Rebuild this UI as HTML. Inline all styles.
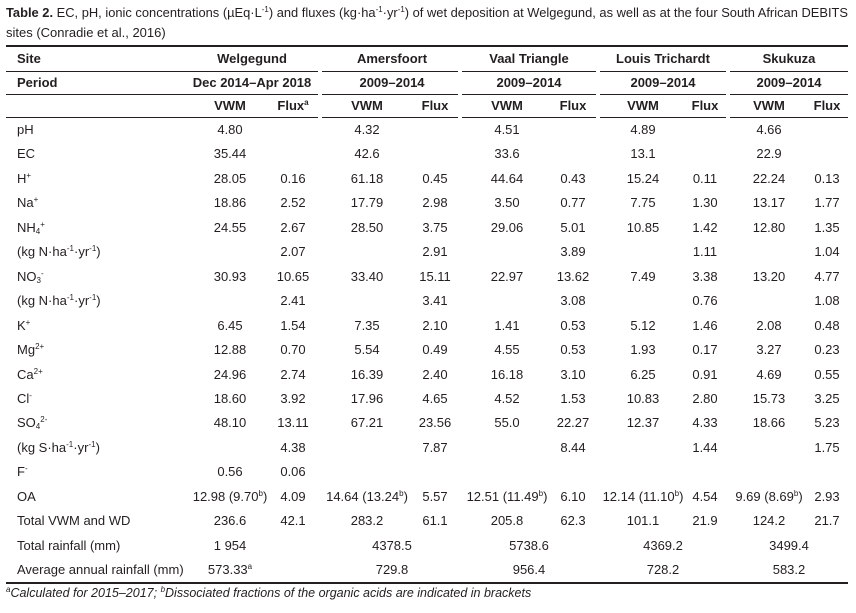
<!DOCTYPE html>
<html><head><meta charset="utf-8"><style>
html,body{margin:0;padding:0;background:#fff;}
#root{position:relative;width:856px;height:613px;overflow:hidden;font-family:"Liberation Sans Narrow","Liberation Sans",sans-serif;color:#231f20;font-size:13px;}
.t{position:absolute;white-space:nowrap;line-height:14px;}
.c{transform:translateX(-50%);}
.b{font-weight:bold;}
.rule{position:absolute;height:1px;background:#231f20;}
sup{font-size:8px;vertical-align:5px;line-height:0;}
sub{font-size:8px;vertical-align:-2px;line-height:0;}
.title{position:absolute;left:6px;font-size:13px;white-space:nowrap;transform-origin:left top;}
</style></head><body>
<div id="root">
<div class="title" style="top:5px"><b>Table 2.</b> EC, pH, ionic concentrations (µEq·L<sup>-1</sup>) and fluxes (kg·ha<sup>-1</sup>·yr<sup>-1</sup>) of wet deposition at Welgegund, as well as at the four South African DEBITS</div>
<div class="title" style="top:25px">sites (Conradie et al., 2016)</div>
</div>
<script>
const groupCenters=[252,392,529,663,789];
const vwmX=[230,367,507,643,769];
const fluxX=[293,435,573,705,827];
const sites=["Welgegund","Amersfoort","Vaal Triangle","Louis Trichardt","Skukuza"];
const periods=["Dec 2014–Apr 2018","2009–2014","2009–2014","2009–2014","2009–2014"];
const rowLabels=["pH","EC","H<sup>+</sup>","Na<sup>+</sup>","NH<sub>4</sub><sup>+</sup>","(kg N·ha<sup>-1</sup>·yr<sup>-1</sup>)","NO<sub>3</sub><sup>-</sup>","(kg N·ha<sup>-1</sup>·yr<sup>-1</sup>)","K<sup>+</sup>","Mg<sup>2+</sup>","Ca<sup>2+</sup>","Cl<sup>-</sup>","SO<sub>4</sub><sup>2-</sup>","(kg S·ha<sup>-1</sup>·yr<sup>-1</sup>)","F<sup>-</sup>","OA","Total VWM and WD","Total rainfall (mm)","Average annual rainfall (mm)"];
const vwmVals=[
["4.80","4.32","4.51","4.89","4.66"],
["35.44","42.6","33.6","13.1","22.9"],
["28.05","61.18","44.64","15.24","22.24"],
["18.86","17.79","3.50","7.75","13.17"],
["24.55","28.50","29.06","10.85","12.80"],
["","","","",""],
["30.93","33.40","22.97","7.49","13.20"],
["","","","",""],
["6.45","7.35","1.41","5.12","2.08"],
["12.88","5.54","4.55","1.93","3.27"],
["24.96","16.39","16.18","6.25","4.69"],
["18.60","17.96","4.52","10.83","15.73"],
["48.10","67.21","55.0","12.37","18.66"],
["","","","",""],
["0.56","","","",""],
["12.98 (9.70<sup>b</sup>)","14.64 (13.24<sup>b</sup>)","12.51 (11.49<sup>b</sup>)","12.14 (11.10<sup>b</sup>)","9.69 (8.69<sup>b</sup>)"],
["236.6","283.2","205.8","101.1","124.2"]];
const fluxVals=[
["","","","",""],["","","","",""],
["0.16","0.45","0.43","0.11","0.13"],
["2.52","2.98","0.77","1.30","1.77"],
["2.67","3.75","5.01","1.42","1.35"],
["2.07","2.91","3.89","1.11","1.04"],
["10.65","15.11","13.62","3.38","4.77"],
["2.41","3.41","3.08","0.76","1.08"],
["1.54","2.10","0.53","1.46","0.48"],
["0.70","0.49","0.53","0.17","0.23"],
["2.74","2.40","3.10","0.91","0.55"],
["3.92","4.65","1.53","2.80","3.25"],
["13.11","23.56","22.27","4.33","5.23"],
["4.38","7.87","8.44","1.44","1.75"],
["0.06","","","",""],
["4.09","5.57","6.10","4.54","2.93"],
["42.1","61.1","62.3","21.9","21.7"]];
const totalRain=["1 954","4378.5","5738.6","4369.2","3499.4"];
const avgRain=["573.33<sup>a</sup>","729.8","956.4","728.2","583.2"];

const root=document.getElementById('root');
function txt(html,x,y,center,bold,name){
  const d=document.createElement('div');
  d.className='t'+(center?' c':'')+(bold?' b':'');
  d.style.left=x+'px';d.style.top=(y-7)+'px';d.innerHTML=html;
  
  
  root.appendChild(d);
}
function rule(x1,x2,y,h,name){
  const d=document.createElement('div');d.className='rule';
  d.style.left=x1+'px';d.style.width=(x2-x1)+'px';d.style.top=y+'px';d.style.height=h+'px';
  
  
  root.appendChild(d);
}
const segs=[[6,318],[322,458],[462,596],[600,726],[730,848]];
rule(6,848,45,1.5,'top-rule');
[71,94,117].forEach(y=>segs.forEach(s=>rule(s[0],s[1],y,1,'header-rule')));
rule(6,848,582,1.5,'bottom-rule');
txt('Site',17,59,false,true,'site-header');
txt('Period',17,83,false,true,'period-header');
sites.forEach((s,i)=>txt(s,groupCenters[i],59,true,true,'site-name'));
periods.forEach((s,i)=>txt(s,groupCenters[i],83,true,true,'period-value'));
for(let i=0;i<5;i++){
  txt('VWM',vwmX[i],106,true,true,'vwm-header');
  txt(i==0?'Flux<sup>a</sup>':'Flux',fluxX[i],106,true,true,'flux-header');
}
const y0=130,dy=24.45;
rowLabels.forEach((l,r)=>txt(l,17,y0+r*dy,false,false,'row-label'));
vwmVals.forEach((row,r)=>row.forEach((v,i)=>{if(v)txt(v,vwmX[i],y0+r*dy,true,false,'vwm-value');}));
fluxVals.forEach((row,r)=>row.forEach((v,i)=>{if(v)txt(v,fluxX[i],y0+r*dy,true,false,'flux-value');}));
totalRain.forEach((v,i)=>txt(v,i==0?vwmX[0]:groupCenters[i],y0+17*dy,true,false,'total-rainfall-value'));
avgRain.forEach((v,i)=>txt(v,i==0?vwmX[0]:groupCenters[i],y0+18*dy,true,false,'average-rainfall-value'));
const f=document.createElement('div');f.className='t';f.style.left='6px';f.style.top='586px';f.style.fontStyle='italic';f.style.fontSize='12.5px';
f.innerHTML='<sup>a</sup>Calculated for 2015–2017; <sup>b</sup>Dissociated fractions of the organic acids are indicated in brackets';


root.appendChild(f);
// fit caption line 1 width
const t1=document.querySelector('.title');
const w=t1.getBoundingClientRect().width;
if(w>842) t1.style.transform='scaleX('+(842/w)+')';
</script>
</body></html>
